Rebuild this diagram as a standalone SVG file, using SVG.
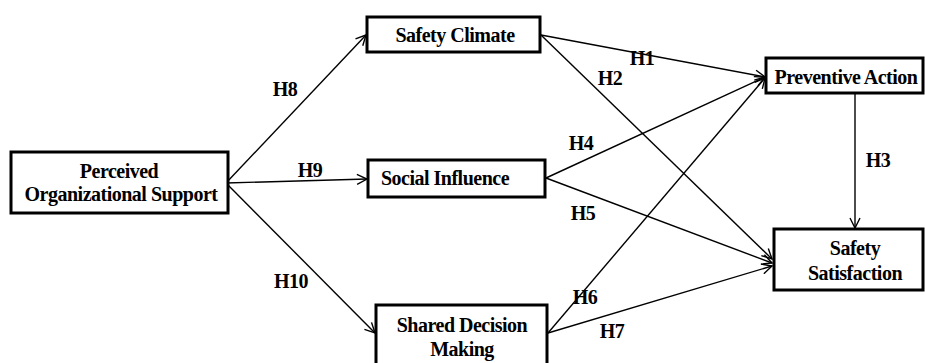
<svg xmlns="http://www.w3.org/2000/svg" width="925" height="363" viewBox="0 0 925 363">
<defs>
<style>
.box{fill:#fff;stroke:#000;stroke-width:3}
.t{font-family:"Liberation Serif","Times New Roman",serif;font-weight:bold;font-size:20px;letter-spacing:-0.5px;fill:#000;text-anchor:middle}
.e{stroke:#000;stroke-width:1.4;fill:none;marker-end:url(#ah)}
</style>
<marker id="ah" viewBox="0 0 12 12" refX="11" refY="6" markerWidth="12" markerHeight="12" markerUnits="userSpaceOnUse" orient="auto">
<path d="M1,1 L11,6 L1,11" fill="none" stroke="#000" stroke-width="1.4"/>
</marker>
</defs>
<rect width="925" height="363" fill="#fff"/>
<g id="connectors">
<line class="e" x1="226" y1="183" x2="366" y2="35"/>
<line class="e" x1="226" y1="183" x2="367" y2="179"/>
<line class="e" x1="226" y1="183" x2="375" y2="333"/>
<line class="e" x1="541" y1="35" x2="765" y2="77"/>
<line class="e" x1="541" y1="35" x2="772" y2="259"/>
<line class="e" x1="546" y1="178" x2="765" y2="77"/>
<line class="e" x1="546" y1="178" x2="772" y2="263"/>
<line class="e" x1="548" y1="333" x2="765" y2="78"/>
<line class="e" x1="548" y1="333" x2="772" y2="266"/>
<line class="e" x1="855" y1="94" x2="855" y2="228"/>
<g class="t">
<text x="285" y="96">H8</text>
<text x="310" y="177">H9</text>
<text x="291" y="288">H10</text>
<text x="642" y="65">H1</text>
<text x="610" y="85">H2</text>
<text x="581" y="150">H4</text>
<text x="583" y="220">H5</text>
<text x="878" y="167">H3</text>
<text x="585" y="304">H6</text>
<text x="612" y="338">H7</text>
</g>
</g>
<g id="pos">
<rect class="box" x="11" y="152" width="217" height="61"/>
<text class="t" x="119" y="178">Perceived</text>
<text class="t" x="121" y="201">Organizational Support</text>
</g>
<g id="safety-climate">
<rect class="box" x="367" y="17" width="173" height="35"/>
<text class="t" x="455" y="42">Safety  Climate</text>
</g>
<g id="social-influence">
<rect class="box" x="368" y="160" width="177" height="37"/>
<text class="t" x="445" y="185">Social Influence</text>
</g>
<g id="shared-decision">
<rect class="box" x="376" y="305" width="171" height="62"/>
<text class="t" x="462" y="332">Shared Decision</text>
<text class="t" x="462" y="356">Making</text>
</g>
<g id="preventive-action">
<rect class="box" x="766" y="58" width="157" height="35"/>
<text class="t" x="846" y="84" letter-spacing="-0.7">Preventive Action</text>
</g>
<g id="safety-satisfaction">
<rect class="box" x="774" y="229" width="149" height="61"/>
<text class="t" x="855" y="255">Safety</text>
<text class="t" x="855" y="280">Satisfaction</text>
</g>
</svg>
